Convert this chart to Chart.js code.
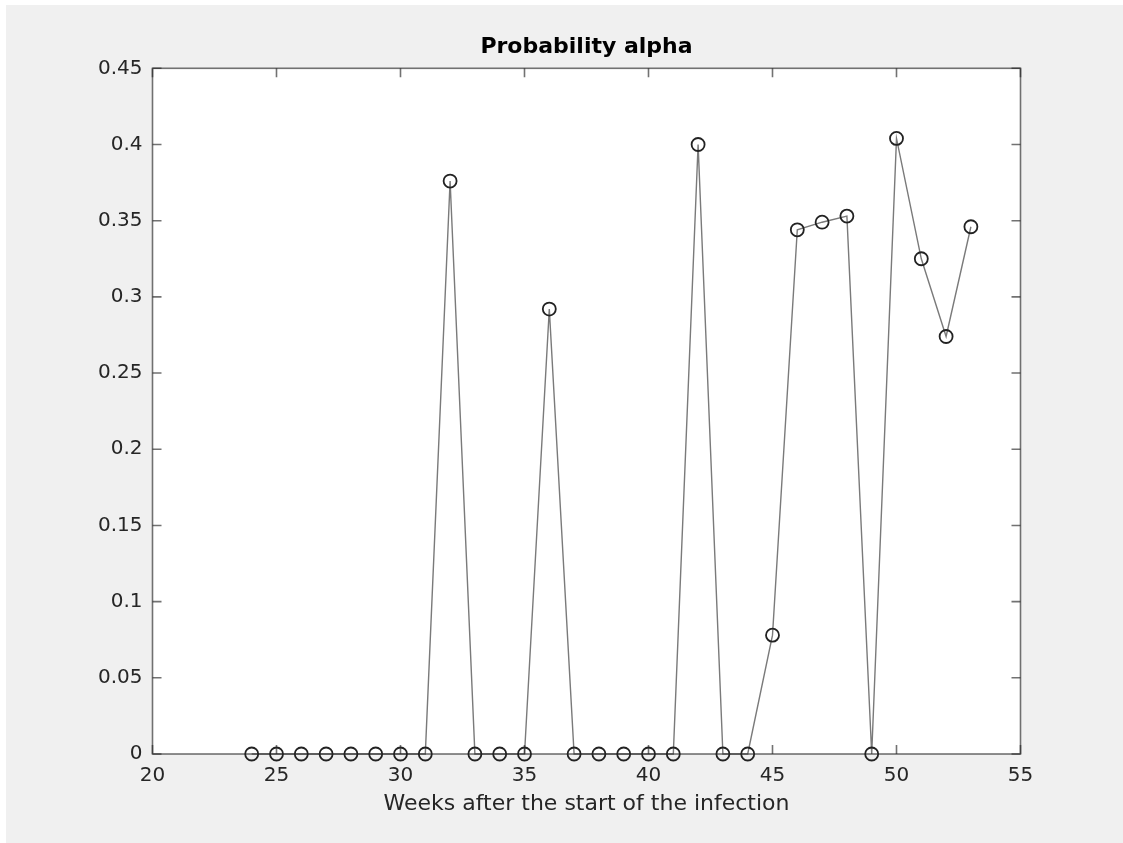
<!DOCTYPE html>
<html lang="en">
<head>
    <meta charset="UTF-8">
    <title>Probability alpha</title>
    <script src="https://cdn.jsdelivr.net/npm/chart.js"></script>
    <style>
        body {
            margin: 0;
            background: white;
            overflow: hidden;
        }
        #chart {
            width: 1123px;
            height: 843px;
        }
    </style>
</head>
<body>

<div id="chart">
    <canvas id="alphaChart"></canvas>
</div>

<script>
    // weeks and probability values
    const weeks = [24, 25, 26, 27, 28, 29, 30, 31, 32, 33, 34, 35, 36, 37, 38, 39, 40, 41, 42, 43, 44, 45, 46, 47, 48, 49, 50, 51, 52, 53];
    const alpha = [0, 0, 0, 0, 0, 0, 0, 0, 0.376, 0, 0, 0, 0.292, 0, 0, 0, 0, 0, 0.400, 0, 0, 0.078, 0.344, 0.349, 0.353, 0, 0.404, 0.325, 0.274, 0.346];
    const xTicks = [20, 25, 30, 35, 40, 45, 50, 55];
    const yTicks = [0, 0.05, 0.1, 0.15, 0.2, 0.25, 0.3, 0.35, 0.4, 0.45];
    const titleText = 'Probability alpha';

    const axisColor = '#262626';
    const tickLen = 9;

    // grey figure, white axes, box with inward ticks like matlab
    const matlabAxes = {
        id: 'matlabAxes',
        beforeDraw(chart) {
            const ctx = chart.ctx;
            const a = chart.chartArea;
            ctx.save();
            ctx.fillStyle = '#ffffff';
            ctx.fillRect(0, 0, chart.width, chart.height);
            ctx.fillStyle = '#f0f0f0';
            ctx.fillRect(6, 5, chart.width - 6, chart.height - 5);
            ctx.fillStyle = '#ffffff';
            ctx.fillRect(a.left, a.top, a.right - a.left, a.bottom - a.top);
            ctx.restore();
        },
        afterDraw(chart) {
            const ctx = chart.ctx;
            const a = chart.chartArea;
            const x = chart.scales.x;
            const y = chart.scales.y;
            ctx.save();
            ctx.strokeStyle = 'rgba(38,38,38,0.65)';
            ctx.lineWidth = 1.6;
            ctx.strokeRect(a.left, a.top, a.right - a.left, a.bottom - a.top);
            ctx.beginPath();
            xTicks.forEach(v => {
                const px = x.getPixelForValue(v);
                ctx.moveTo(px, a.bottom);
                ctx.lineTo(px, a.bottom - tickLen);
                ctx.moveTo(px, a.top);
                ctx.lineTo(px, a.top + tickLen);
            });
            yTicks.forEach(v => {
                const py = y.getPixelForValue(v);
                ctx.moveTo(a.left, py);
                ctx.lineTo(a.left + tickLen, py);
                ctx.moveTo(a.right, py);
                ctx.lineTo(a.right - tickLen, py);
            });
            ctx.stroke();

            // title centred over the axes, not the whole figure
            ctx.fillStyle = '#000';
            ctx.font = 'bold 22px "DejaVu Sans"';
            ctx.textAlign = 'center';
            ctx.textBaseline = 'middle';
            ctx.fillText(titleText, (a.left + a.right) / 2, 47);
            ctx.restore();
        }
    };

    const ctx = document.getElementById('alphaChart').getContext('2d');
    new Chart(ctx, {
        type: 'line',
        data: {
            datasets: [{
                data: weeks.map((w, i) => ({ x: w, y: alpha[i] })),
                borderColor: '#7a7a7a',
                borderWidth: 1.4,
                tension: 0,
                fill: false,
                pointRadius: 6.5,
                pointBorderWidth: 1.8,
                pointBorderColor: '#222',
                pointBackgroundColor: 'rgba(0,0,0,0)',
                clip: false
            }]
        },
        options: {
            responsive: true,
            maintainAspectRatio: false,
            animation: false,
            events: [],
            layout: {
                padding: { left: 0, right: 102.5, top: 68.3, bottom: 0 }
            },
            plugins: {
                legend: { display: false },
                tooltip: { enabled: false },
                title: { display: false }
            },
            scales: {
                x: {
                    type: 'linear',
                    min: 20,
                    max: 55,
                    afterBuildTicks: s => { s.ticks = xTicks.map(v => ({ value: v })); },
                    afterFit: s => { s.height = 89; },
                    grid: { display: false, drawTicks: false },
                    border: { display: false },
                    ticks: {
                        color: axisColor,
                        padding: 10,
                        maxRotation: 0,
                        font: { family: 'DejaVu Sans', size: 20 },
                        callback: v => String(v)
                    },
                    title: {
                        display: true,
                        text: 'Weeks after the start of the infection',
                        color: axisColor,
                        font: { family: 'DejaVu Sans', size: 22 },
                        padding: { top: 0, bottom: 25.8 }
                    }
                },
                y: {
                    type: 'linear',
                    min: 0,
                    max: 0.45,
                    afterBuildTicks: s => { s.ticks = yTicks.map(v => ({ value: v })); },
                    afterFit: s => { s.width = 152.5; },
                    grid: { display: false, drawTicks: false },
                    border: { display: false },
                    ticks: {
                        color: axisColor,
                        padding: 10,
                        font: { family: 'DejaVu Sans', size: 20 },
                        callback: v => String(+v.toFixed(2))
                    }
                }
            }
        },
        plugins: [matlabAxes]
    });
</script>

</body>
</html>
